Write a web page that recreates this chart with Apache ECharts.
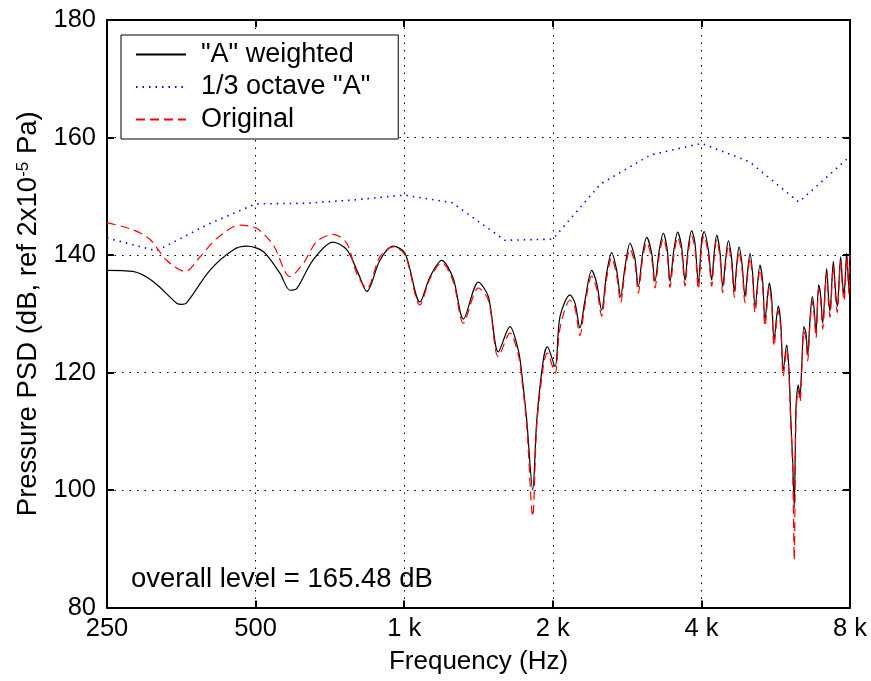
<!DOCTYPE html>
<html>
<head>
    <meta charset="UTF-8">
    <title>Pressure PSD</title>
    <script src="https://cdn.jsdelivr.net/npm/echarts@6/dist/echarts.min.js"></script>
    <style>
        html, body { margin: 0; padding: 0; background: #fff; }
        #chart { width: 871px; height: 681px; }
    </style>
</head>
<body>
<div id="chart"></div>
<script type="text/javascript">
    // x ticks, one per octave starting at 250 Hz
    var tickFreqs = [250, 500, 1000, 2000, 4000, 8000];
    var tickLabels = ['250', '500', '1 k', '2 k', '4 k', '8 k'];

    // "A" weighted (black, solid)
    var freqA = [250, 282, 310, 346, 354, 362, 404, 451, 480, 518, 560, 587, 606, 653, 717, 765, 806, 840, 893, 950,
        1004, 1076, 1128, 1191, 1257, 1318, 1413, 1481, 1551, 1638, 1703, 1730, 1771, 1821, 1856, 1913, 1949, 2021, 2068,
        2167, 2218, 2270, 2324, 2398, 2454, 2512, 2571, 2632, 2694, 2745, 2801, 2867, 2934, 2980, 3042, 3099, 3172, 3221,
        3287, 3349, 3411, 3455, 3519, 3580, 3647, 3705, 3763, 3823, 3882, 3943, 4006, 4050, 4131, 4197, 4242, 4296, 4362,
        4417, 4476, 4535, 4604, 4665, 4712, 4767, 4834, 4902, 4959, 5018, 5077, 5137, 5257, 5323, 5381, 5490, 5552, 5613,
        5725, 5790, 5860, 5954, 6018, 6067, 6122, 6168, 6220, 6286, 6337, 6386, 6453, 6515, 6567, 6638, 6710, 6764, 6827,
        6913, 6979, 7043, 7175, 7235, 7285, 7402, 7475, 7538, 7658, 7722, 7781, 7877, 7962, 8000];
    var dbA = [137.4, 137.2, 135.5, 131.8, 131.6, 131.8, 137.4, 140.9, 141.5, 140.6, 136.9, 134.0, 134.3, 139.1, 142.2, 140.9, 137.0, 133.8, 139.1, 141.5,
        140.3, 132.0, 136.3, 139.1, 136.0, 129.1, 135.4, 132.9, 123.5, 127.8, 123.8, 119.9, 111.9, 100.0, 111.9, 122.1, 124.4, 121.0, 129.5,
        133.2, 131.8, 127.6, 132.3, 137.4, 135.2, 130.6, 136.9, 140.4, 137.4, 132.9, 138.0, 142.0, 139.4, 134.6, 140.3, 143.0, 140.3, 135.5,
        140.9, 143.7, 140.9, 135.5, 140.9, 143.9, 141.4, 135.7, 141.4, 144.1, 142.0, 135.2, 142.6, 144.0, 140.9, 135.7, 140.0, 143.4, 140.5,
        134.6, 139.0, 142.4, 139.5, 133.8, 138.0, 141.4, 138.5, 132.9, 137.0, 140.3, 137.0, 131.2, 138.3, 135.5, 128.9, 135.2, 132.5, 125.5,
        131.3, 128.5, 120.4, 124.7, 120.4, 112.5, 105.1, 97.0, 114.2, 117.9, 115.9, 121.0, 127.8, 126.7, 123.0, 129.0, 132.9, 131.0, 126.9,
        134.9, 133.0, 128.4, 137.7, 133.0, 130.4, 138.9, 134.0, 131.2, 139.7, 135.5, 133.2, 140.3, 134.3, 139.0];

    // 1/3 octave "A" (blue, dotted)
    var freqOct = [250, 315, 400, 500, 630, 800, 1000, 1250, 1600, 2000, 2500, 3150, 4000, 5000, 6300, 8000];
    var dbOct = [142.9, 140.7, 145.2, 148.7, 148.8, 149.4, 150.2, 148.9, 142.5, 142.7, 152.1, 157.0, 159.0, 155.9, 149.0, 156.8];

    // Original (red, dashed)
    var freqOrig = [250, 282, 306, 330, 360, 386, 417, 465, 503, 543, 587, 625, 665, 718, 765, 801, 840, 893, 950,
        1004, 1076, 1128, 1191, 1257, 1318, 1413, 1481, 1551, 1638, 1703, 1730, 1771, 1821, 1856, 1913, 1949, 2021, 2068,
        2167, 2218, 2270, 2324, 2398, 2454, 2512, 2571, 2632, 2694, 2745, 2801, 2867, 2934, 2980, 3042, 3099, 3172, 3221,
        3287, 3349, 3411, 3455, 3519, 3580, 3647, 3705, 3763, 3823, 3882, 3943, 4006, 4050, 4131, 4197, 4242, 4296, 4362,
        4417, 4476, 4535, 4604, 4665, 4712, 4767, 4834, 4902, 4959, 5018, 5077, 5137, 5257, 5323, 5381, 5490, 5552, 5613,
        5725, 5790, 5860, 5954, 6018, 6067, 6122, 6168, 6220, 6286, 6337, 6386, 6453, 6515, 6567, 6638, 6710, 6764, 6827,
        6913, 6979, 7043, 7175, 7235, 7285, 7402, 7475, 7538, 7658, 7722, 7781, 7877, 7962, 8000];
    var dbOrig = [145.5, 144.3, 142.6, 139.1, 137.2, 139.7, 142.8, 145.1, 144.5, 141.7, 136.3, 138.6, 142.3, 143.5, 142.0, 136.9, 134.3, 139.7, 141.4,
        140.0, 131.5, 136.0, 138.7, 135.5, 128.4, 134.4, 132.3, 122.7, 126.7, 123.0, 119.0, 111.0, 95.5, 111.0, 121.0, 123.3, 119.9, 127.5,
        132.3, 131.0, 126.3, 131.5, 136.4, 134.3, 129.6, 136.0, 139.5, 136.5, 131.9, 137.2, 141.0, 138.5, 133.5, 139.5, 142.1, 139.4, 134.4,
        140.0, 142.8, 140.0, 134.5, 140.0, 143.0, 140.5, 134.7, 140.5, 143.2, 141.0, 134.2, 141.7, 143.2, 140.0, 134.7, 139.2, 142.6, 139.6,
        133.6, 138.2, 141.6, 138.6, 132.8, 137.2, 140.6, 137.6, 131.9, 136.2, 139.5, 136.2, 130.2, 137.5, 134.6, 127.9, 134.4, 131.6, 124.5,
        130.5, 127.6, 119.4, 123.9, 119.4, 111.5, 104.0, 88.1, 113.2, 117.0, 115.0, 120.0, 127.0, 125.8, 122.0, 128.2, 132.1, 130.0, 125.9,
        134.1, 132.0, 127.4, 136.9, 132.0, 129.4, 138.1, 133.0, 130.2, 138.9, 134.5, 132.2, 139.5, 133.3, 140.0];

    var FONT = 'Liberation Sans, Arial, Helvetica, sans-serif';

    // position on the axis = octaves above 250 Hz (log frequency axis)
    function octave(f) { return Math.log2(f / tickFreqs[0]); }
    function pairs(freqs, vals) {
        return freqs.map(function (f, i) { return [octave(f), vals[i]]; });
    }
    function freqLabel(v) {
        var i = Math.round(v);
        return Math.abs(v - i) < 1e-6 && tickLabels[i] !== undefined ? tickLabels[i] : '';
    }

    var chart = echarts.init(document.getElementById('chart'), null, { renderer: 'canvas' });

    var gridDots = { color: '#000', width: 1, type: [1.5, 6] };
    var frame = { show: true, onZero: false, lineStyle: { color: '#000', width: 2 } };
    var tickIn = { show: true, inside: true, length: 7, lineStyle: { color: '#000', width: 2 } };

    var option = {
        backgroundColor: '#fff',
        animation: false,
        title: {
            text: 'overall level = 165.48 dB',
            left: 131,
            top: 565,
            padding: 0,
            textStyle: { fontFamily: FONT, fontSize: 27.5, fontWeight: 'normal', color: '#000' }
        },
        legend: {
            orient: 'vertical',
            left: 121,
            top: 35,
            padding: [6, 28, 6, 14],
            itemGap: 5.5,
            itemWidth: 50,
            itemHeight: 14,
            backgroundColor: '#fff',
            borderColor: '#000',
            borderWidth: 1,
            borderRadius: 0,
            itemStyle: { opacity: 0, borderWidth: 0 },
            textStyle: { fontFamily: FONT, fontSize: 27, color: '#000', padding: [0, 0, 0, 10] },
            data: ['"A" weighted', '1/3 octave "A"', 'Original']
        },
        grid: { left: 107, right: 21, top: 20, bottom: 73.5, containLabel: false },
        xAxis: [
            {
                type: 'value', min: 0, max: 5, interval: 1, position: 'bottom',
                axisLine: frame, axisTick: tickIn,
                axisLabel: { formatter: freqLabel, fontFamily: FONT, fontSize: 25.5, color: '#000', margin: 8 },
                splitLine: { show: true, lineStyle: gridDots },
                name: 'Frequency (Hz)', nameLocation: 'middle', nameGap: 41,
                nameTextStyle: { fontFamily: FONT, fontSize: 26, color: '#000' }
            },
            {
                type: 'value', min: 0, max: 5, interval: 1, position: 'top',
                axisLine: frame, axisTick: tickIn, axisLabel: { show: false }, splitLine: { show: false }
            }
        ],
        yAxis: [
            {
                type: 'value', min: 80, max: 180, interval: 20, position: 'left',
                axisLine: frame, axisTick: tickIn,
                axisLabel: { fontFamily: FONT, fontSize: 25.5, color: '#000', margin: 11 },
                splitLine: { show: true, lineStyle: gridDots },
                name: 'Pressure PSD (dB, ref 2x10{sup|-5} Pa)', nameLocation: 'middle', nameGap: 59, nameRotate: 90,
                nameTextStyle: {
                    fontFamily: FONT, fontSize: 27.5, color: '#000',
                    rich: { sup: { fontFamily: FONT, fontSize: 17, color: '#000', verticalAlign: 'top' } }
                }
            },
            {
                type: 'value', min: 80, max: 180, interval: 20, position: 'right',
                axisLine: frame, axisTick: tickIn, axisLabel: { show: false }, splitLine: { show: false }
            }
        ],
        series: [
            {
                name: '"A" weighted', type: 'line', symbol: 'none', smooth: 0.3,
                lineStyle: { color: '#000', width: 1.2 }, itemStyle: { color: '#000' },
                data: pairs(freqA, dbA)
            },
            {
                name: '1/3 octave "A"', type: 'line', symbol: 'none',
                lineStyle: { color: '#0000ff', width: 1.6, type: [1.5, 5] }, itemStyle: { color: '#0000ff' },
                data: pairs(freqOct, dbOct)
            },
            {
                name: 'Original', type: 'line', symbol: 'none', smooth: 0.3,
                lineStyle: { color: '#ff0000', width: 1.2, type: [9, 5] }, itemStyle: { color: '#ff0000' },
                data: pairs(freqOrig, dbOrig)
            }
        ]
    };
    chart.setOption(option);
</script>
</body>
</html>
